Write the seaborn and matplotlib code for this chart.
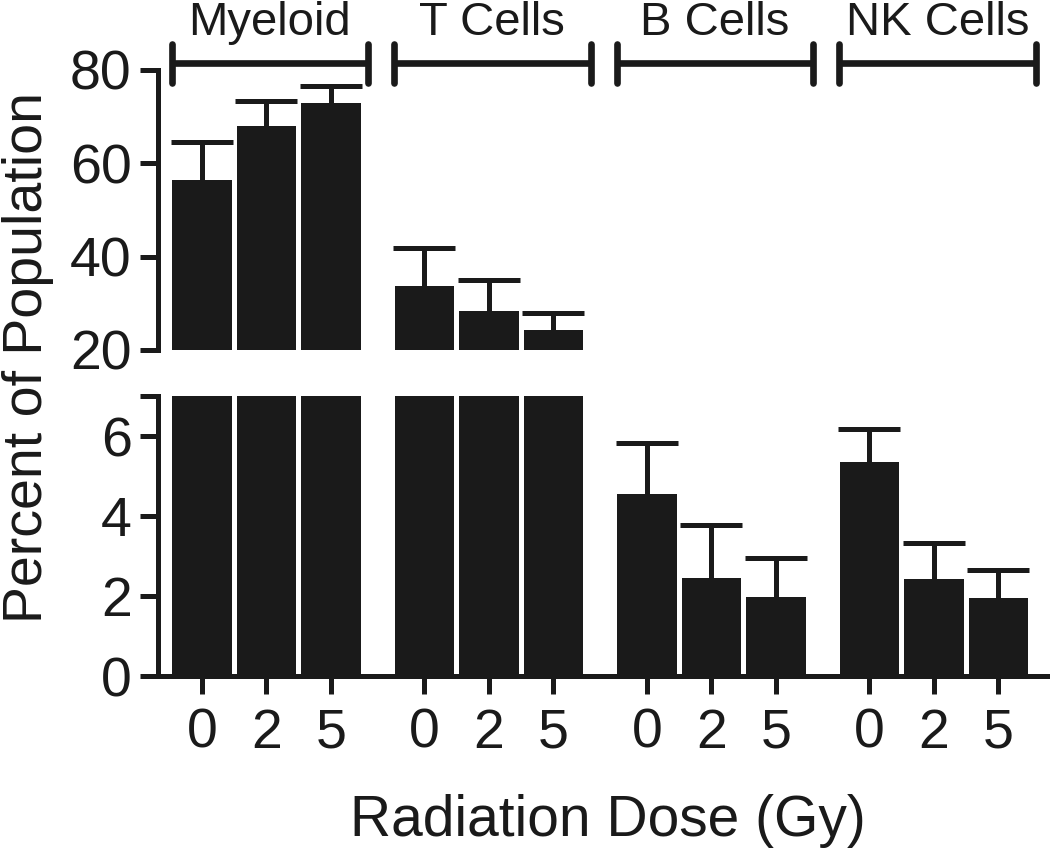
import numpy as np
import pandas as pd
import matplotlib
matplotlib.use('Agg')
import matplotlib.pyplot as plt
import seaborn as sns

# values (mean and upper error)
groups = ['Myeloid', 'T Cells', 'B Cells', 'NK Cells']
doses = ['0', '2', '5']
means = [56.4, 67.9, 73.0,
         33.8, 28.4, 24.3,
         4.55, 2.44, 1.98,
         5.36, 2.43, 1.94]
errs = [8.2, 5.5, 3.6,
        8.0, 6.6, 3.6,
        1.28, 1.34, 0.96,
        0.82, 0.89, 0.71]

sns.set_style('ticks')
plt.rcParams['font.family'] = ['Liberation Sans', 'DejaVu Sans']

group_step = 3.45
pos = [g * group_step + i for g in range(len(groups)) for i in range(len(doses))]
data = pd.DataFrame({'pos': pos, 'mean': means, 'err': errs,
                     'group': np.repeat(groups, len(doses)),
                     'dose': doses * len(groups)})

dark = '#1a1a1a'
lw = 3.6

fig = plt.figure(figsize=(10.5, 8.48), dpi=100)
ax_top = fig.add_axes([0.1505, 0.5873, 0.8495, 0.3302])
ax_bot = fig.add_axes([0.1505, 0.2028, 0.8495, 0.3302])

for ax in (ax_top, ax_bot):
    sns.barplot(data=data, x='pos', y='mean', native_scale=True, color=dark,
                saturation=1, width=0.92, errorbar=None, linewidth=0, ax=ax)
    eb = ax.errorbar(data['pos'], data['mean'],
                     yerr=[np.zeros(len(data)), data['err']],
                     fmt='none', ecolor=dark, elinewidth=lw, capsize=22,
                     capthick=lw, zorder=3)
    # only the upper cap is wanted
    eb[1][0].set_visible(False)
    ax.set_xlim(-0.68, 13.15)
    ax.set_xlabel('')
    ax.set_ylabel('')
    for s in ('top', 'right'):
        ax.spines[s].set_visible(False)
    for s in ('left', 'bottom'):
        ax.spines[s].set_linewidth(lw)
        ax.spines[s].set_color(dark)
    ax.tick_params(axis='both', width=lw, length=13, labelsize=40,
                   color=dark, labelcolor=dark, pad=6)

ax_top.set_ylim(20, 80)
ax_top.set_yticks([20, 40, 60, 80])
ax_top.spines['bottom'].set_visible(False)
ax_top.tick_params(axis='x', bottom=False, labelbottom=False)

ax_bot.set_ylim(0, 7)
ax_bot.set_yticks([0, 2, 4, 6, 7])
ax_bot.set_yticklabels(['0', '2', '4', '6', ''])
ax_bot.set_xticks(pos)
ax_bot.set_xticklabels(data['dose'])
ax_bot.tick_params(axis='x', pad=10)

# group brackets above the top panel
for g, name in enumerate(groups):
    x0 = g * group_step - 0.47
    x1 = g * group_step + 2.58
    ax_top.plot([x0, x1], [81.5, 81.5], color=dark, lw=4.8, clip_on=False,
                solid_capstyle='butt')
    for xx in (x0, x1):
        ax_top.plot([xx, xx], [77.3, 85.5], color=dark, lw=4.8, clip_on=False,
                    solid_capstyle='round')
    ax_top.text((x0 + x1) / 2, 87.5, name, ha='center', va='baseline',
                fontsize=34, color=dark, clip_on=False)

fig.text(0.027, 0.579, 'Percent of Population', rotation=90, ha='center',
         va='center', fontsize=40, color=dark)
fig.text(0.579, 0.014, 'Radiation Dose (Gy)', ha='center', va='baseline',
         fontsize=41, color=dark)

fig.savefig('out.png', dpi=100)
